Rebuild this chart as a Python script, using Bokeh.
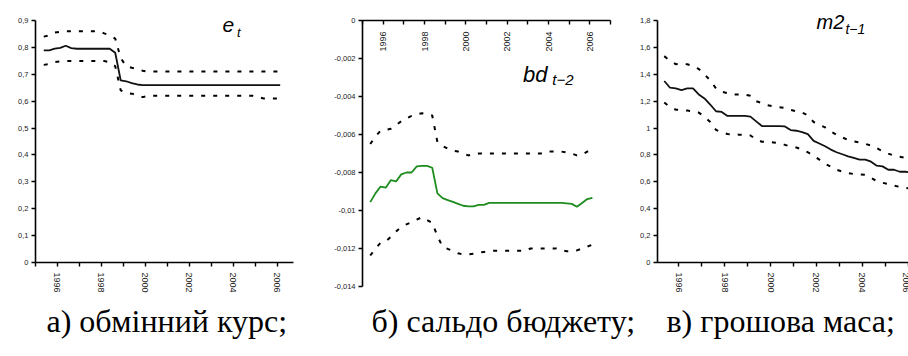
import pandas as pd
from bokeh.plotting import figure
from bokeh.models import Range1d, FixedTicker, CustomJSTickFormatter, Label
from bokeh.layouts import row, column
from bokeh.embed import file_html
from bokeh.resources import INLINE

# ---------------- data ----------------
quarters = pd.period_range("1995Q2", "2006Q1", freq="Q")
t = [p.year + (p.quarter - 0.5) / 4 for p in quarters]

year_ticks = [1995, 1996, 1997, 1998, 1999, 2000, 2001, 2002, 2003, 2004, 2005, 2006, 2007]

# a) exchange rate e_t
e_mid = [0.789, 0.789, 0.795, 0.798, 0.806, 0.797, 0.795, 0.795, 0.795, 0.795, 0.795, 0.795,
         0.795, 0.780, 0.677, 0.674, 0.667, 0.662, 0.660, 0.660, 0.660, 0.660, 0.660, 0.660,
         0.660, 0.660, 0.660, 0.660, 0.660, 0.660, 0.660, 0.660, 0.660, 0.660, 0.660, 0.660,
         0.660, 0.660, 0.660, 0.660, 0.660, 0.660, 0.660, 0.660]
e_up = [0.840, 0.845, 0.855, 0.858, 0.860, 0.860, 0.860, 0.860, 0.860, 0.860, 0.860, 0.852,
        0.845, 0.833, 0.760, 0.730, 0.724, 0.720, 0.713, 0.710, 0.710, 0.710, 0.710, 0.710,
        0.710, 0.710, 0.710, 0.710, 0.710, 0.710, 0.710, 0.710, 0.710, 0.710, 0.710, 0.710,
        0.710, 0.710, 0.710, 0.710, 0.710, 0.710, 0.710, 0.710]
e_lo = [0.735, 0.738, 0.745, 0.748, 0.749, 0.749, 0.749, 0.749, 0.749, 0.749, 0.749, 0.749,
        0.745, 0.730, 0.640, 0.630, 0.628, 0.622, 0.615, 0.620, 0.620, 0.620, 0.620, 0.620,
        0.620, 0.620, 0.620, 0.620, 0.620, 0.620, 0.620, 0.620, 0.620, 0.620, 0.620, 0.620,
        0.620, 0.620, 0.620, 0.615, 0.610, 0.610, 0.610, 0.610]
e_yticks = [0, 0.1, 0.2, 0.3, 0.4, 0.5, 0.6, 0.7, 0.8, 0.9]

# b) budget balance bd_{t-2}
bd_mid = [-0.00956, -0.0091, -0.00874, -0.0088, -0.0084, -0.00847, -0.0081, -0.0080, -0.0080,
          -0.00768, -0.00765, -0.00765, -0.00775, -0.0091, -0.00935, -0.00945, -0.00955,
          -0.00965, -0.00975, -0.00978, -0.00978, -0.0097, -0.0097, -0.0096, -0.0096, -0.0096,
          -0.0096, -0.0096, -0.0096, -0.0096, -0.0096, -0.0096, -0.0096, -0.0096, -0.0096,
          -0.0096, -0.0096, -0.0096, -0.00962, -0.00965, -0.0098, -0.0096, -0.0094, -0.00933]
bd_up = [-0.0065, -0.0061, -0.0058, -0.00575, -0.0057, -0.0055, -0.0053, -0.00515, -0.00502,
         -0.00493, -0.00488, -0.00492, -0.0050, -0.0064, -0.0066, -0.00675, -0.00685, -0.0069,
         -0.0070, -0.0071, -0.00705, -0.0070, -0.0070, -0.0070, -0.0070, -0.0070, -0.0070,
         -0.0070, -0.0070, -0.0070, -0.0070, -0.0070, -0.0070, -0.0070, -0.0069, -0.0069,
         -0.0069, -0.0069, -0.00695, -0.0070, -0.0071, -0.00705, -0.0069, -0.0068]
bd_lo = [-0.01237, -0.0120, -0.0117, -0.01163, -0.01138, -0.0111, -0.01086, -0.01073, -0.01062,
         -0.01048, -0.01035, -0.0105, -0.01065, -0.01135, -0.0119, -0.01202, -0.01213, -0.01225,
         -0.01232, -0.0123, -0.01228, -0.01222, -0.01218, -0.01214, -0.01212, -0.01212, -0.01212,
         -0.01212, -0.01212, -0.01212, -0.01212, -0.0120, -0.0120, -0.0120, -0.0120, -0.0120,
         -0.0120, -0.0121, -0.01214, -0.01214, -0.0121, -0.0120, -0.0119, -0.0118]
bd_yticks = [0, -0.002, -0.004, -0.006, -0.008, -0.010, -0.012, -0.014]

# c) money supply m2_{t-1}
m2_mid = [1.350, 1.300, 1.295, 1.283, 1.295, 1.295, 1.250, 1.220, 1.175, 1.125, 1.120, 1.090,
          1.090, 1.090, 1.090, 1.085, 1.050, 1.015, 1.015, 1.015, 1.015, 1.012, 0.985, 0.980,
          0.970, 0.955, 0.905, 0.885, 0.865, 0.840, 0.820, 0.805, 0.790, 0.778, 0.765, 0.765,
          0.750, 0.720, 0.715, 0.690, 0.690, 0.675, 0.675, 0.670]
m2_up = [1.535, 1.500, 1.475, 1.477, 1.475, 1.460, 1.440, 1.400, 1.355, 1.295, 1.270, 1.260,
         1.250, 1.249, 1.249, 1.240, 1.200, 1.185, 1.170, 1.162, 1.155, 1.150, 1.135, 1.125,
         1.115, 1.095, 1.045, 1.025, 1.005, 0.975, 0.950, 0.930, 0.912, 0.900, 0.893, 0.882,
         0.870, 0.850, 0.828, 0.810, 0.795, 0.787, 0.777, 0.770]
m2_lo = [1.190, 1.155, 1.137, 1.133, 1.130, 1.125, 1.115, 1.085, 1.045, 0.986, 0.968, 0.956,
         0.952, 0.951, 0.950, 0.945, 0.915, 0.898, 0.896, 0.893, 0.886, 0.875, 0.862, 0.855,
         0.840, 0.820, 0.795, 0.765, 0.735, 0.712, 0.690, 0.676, 0.665, 0.658, 0.655, 0.652,
         0.630, 0.605, 0.593, 0.584, 0.572, 0.562, 0.555, 0.550]
m2_yticks = [0, 0.2, 0.4, 0.6, 0.8, 1.0, 1.2, 1.4, 1.6, 1.8]

captions = ["а) обмінний курс;", "б) сальдо бюджету;", "в) грошова маса;"]

# ---------------- styling helpers ----------------
YFMT = CustomJSTickFormatter(code="""
    var s = parseFloat(tick.toFixed(6)).toString();
    return s.replace('.', ',');
""")
XFMT = CustomJSTickFormatter(code="""
    var y = Math.round(tick);
    return (y % 2 == 0) ? String(y) : '';
""")

SANS = "Liberation Sans"
SERIF = "Liberation Serif"
DASH = "4 8"
H = 300


def base_fig(width, xr, yr, bl, br, bt, bb, xloc="below"):
    p = figure(width=width, height=H, x_range=xr, y_range=yr, title=None,
               output_backend="svg", toolbar_location=None,
               min_border_left=bl, min_border_right=br,
               min_border_top=bt, min_border_bottom=bb,
               x_axis_location=xloc, frame_align=False)
    p.xgrid.visible = False
    p.ygrid.visible = False
    p.outline_line_color = None
    p.background_fill_color = "white"
    p.border_fill_color = "white"
    for ax in (p.xaxis[0], p.yaxis[0]):
        ax.axis_line_color = "black"
        ax.axis_line_width = 1.6
        ax.major_tick_line_color = "black"
        ax.major_tick_line_width = 1.4
        ax.minor_tick_line_color = None
        ax.major_label_text_font = SANS
        ax.major_label_text_color = "#1a1a1a"
    p.yaxis.major_tick_out = 4
    p.yaxis.major_tick_in = 0
    p.yaxis.major_label_standoff = 3
    p.yaxis.major_label_text_font_size = "7.5px"
    p.yaxis.formatter = YFMT
    p.xaxis.ticker = FixedTicker(ticks=year_ticks)
    p.xaxis.formatter = XFMT
    p.xaxis.major_label_orientation = "vertical"
    p.xaxis.major_label_text_font_size = "9px"
    return p


def add_sub_title(p, main, sub, x1, y1, x2, y2, fs1, fs2):
    p.add_layout(Label(x=x1, y=y1, text=main, text_font=SANS, text_font_style="italic",
                       text_font_size=fs1, text_baseline="alphabetic", text_color="black"))
    p.add_layout(Label(x=x2, y=y2, text=sub, text_font=SANS, text_font_style="italic",
                       text_font_size=fs2, text_baseline="alphabetic", text_color="black"))


# a)
p1 = base_fig(308, Range1d(1995.0, 2006.73), Range1d(0, 0.9), 35, 15, 20, 38)
p1.yaxis.ticker = FixedTicker(ticks=e_yticks)
p1.xaxis.major_tick_out = 4
p1.xaxis.major_tick_in = 0
p1.xaxis.major_label_standoff = 6
p1.line(t, e_up, line_color="black", line_width=2, line_dash=DASH)
p1.line(t, e_lo, line_color="black", line_width=2, line_dash=DASH)
p1.line(t, e_mid, line_color="#111111", line_width=1.8)
add_sub_title(p1, "e", "t", 2003.5, 0.885, 2004.16, 0.855, "21px", "13px")

# b)
p2 = base_fig(317, Range1d(1995.0, 2007.0), Range1d(-0.014, 0), 54, 15, 20, 14, xloc="above")
p2.yaxis.ticker = FixedTicker(ticks=bd_yticks)
p2.xaxis.major_tick_out = 0
p2.xaxis.major_tick_in = 4
p2.xaxis.major_label_standoff = -31
p2.line(t, bd_up, line_color="black", line_width=2, line_dash=DASH)
p2.line(t, bd_lo, line_color="black", line_width=2, line_dash=DASH)
p2.line(t, bd_mid, line_color="#1e8c1e", line_width=1.8)
add_sub_title(p2, "bd", "t\u22122", 2002.77, -0.00283, 2004.18, -0.00311, "22px", "15px")

# c)  (frame reaches a little above 1,8 so the panel label fits; the axis stops at 1,8)
p3 = base_fig(283, Range1d(1995.08, 2006.005), Range1d(0, 1.8893), 32, 0, 8, 38)
p3.yaxis.ticker = FixedTicker(ticks=m2_yticks)
p3.yaxis.bounds = (0, 1.8)
p3.xaxis.major_tick_out = 4
p3.xaxis.major_tick_in = 0
p3.xaxis.major_label_standoff = 6
p3.line(t, m2_up, line_color="black", line_width=2, line_dash=DASH)
p3.line(t, m2_lo, line_color="black", line_width=2, line_dash=DASH)
p3.line(t, m2_mid, line_color="#111111", line_width=1.8)
add_sub_title(p3, "m2", "t\u22121", 2002.0, 1.786, 2003.26, 1.735, "20px", "14px")

# captions strip
cap = figure(width=908, height=56, x_range=Range1d(0, 908), y_range=Range1d(0, 56), title=None,
             output_backend="svg", toolbar_location=None, frame_align=False,
             min_border_left=0, min_border_right=0, min_border_top=0, min_border_bottom=0)
cap.axis.visible = False
cap.xgrid.visible = False
cap.ygrid.visible = False
cap.outline_line_color = None
cap_x = [46, 371, 666]
for cx, txt in zip(cap_x, captions):
    cap.add_layout(Label(x=cx, y=36, text=txt, text_font=SERIF, text_font_size="32px",
                         text_baseline="alphabetic", text_color="black"))

layout = column(row(p1, p2, p3, spacing=0), cap, spacing=0)

with open("out.html", "w") as f:
    f.write(file_html(layout, INLINE))
